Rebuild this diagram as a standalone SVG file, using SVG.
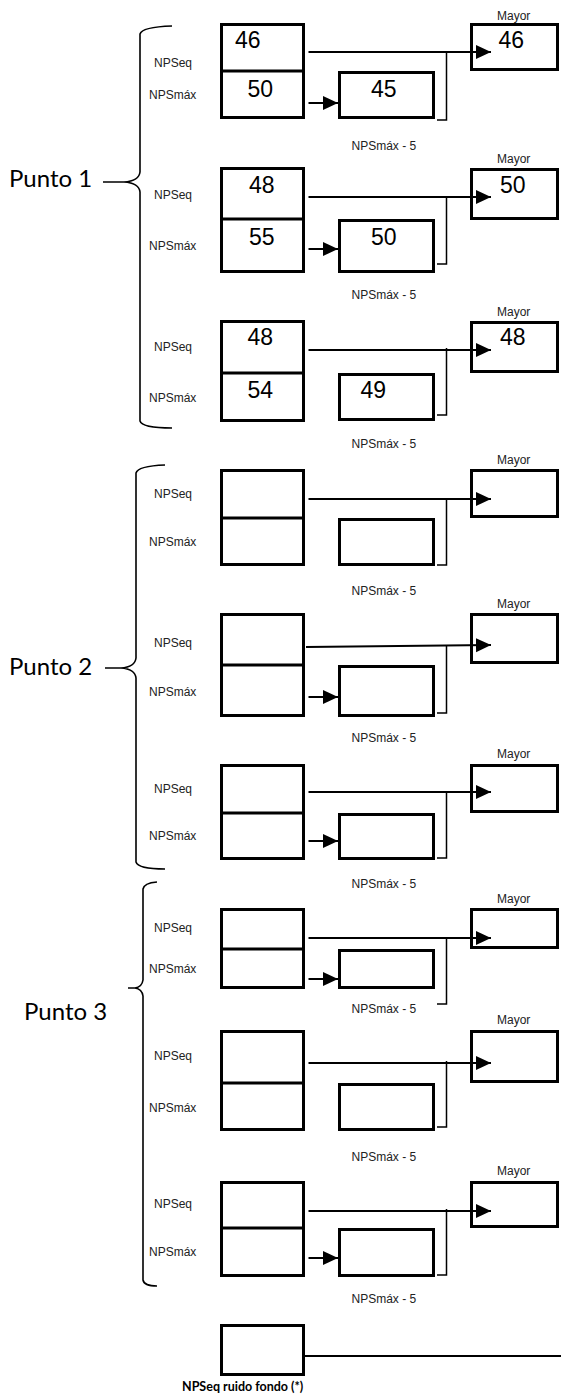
<svg xmlns="http://www.w3.org/2000/svg" width="561" height="1397" viewBox="0 0 561 1397">
<style>
.box{fill:#fff;stroke:#000;stroke-width:3}
.div{stroke:#000;stroke-width:3}
.lbl{font-family:"Liberation Sans",Arial,sans-serif;font-size:12px;fill:#222}
.num{font-family:"Liberation Sans",Arial,sans-serif;font-size:23px;fill:#000}
.punto{font-family:Lato,"Open Sans",sans-serif;font-size:24px;fill:#000}
.note{font-family:Lato,"Open Sans",sans-serif;font-size:12.5px;font-weight:bold;fill:#000}
.arr{stroke:#000;stroke-width:2;fill:none}
.thin{stroke:#000;stroke-width:1.5;fill:none}
.brace{stroke:#000;stroke-width:1.6;fill:none}
</style>
<defs>
<marker id="ah" markerUnits="userSpaceOnUse" markerWidth="16" markerHeight="16" refX="15" refY="7" orient="auto">
<path d="M0,0 L15,7 L0,14 z" fill="#000"/>
</marker>
</defs>

<g id="braces">
<g id="punto1">
<path class="brace" d="M172,26 Q142,27 140,34 L140,172 Q139,181 124,182 L103,182 M124,182 Q139,183 140,192 L140,421 Q142,428 172,428"/>
<text class="punto" x="9" y="187">Punto 1</text>
</g>
<g id="punto2">
<path class="brace" d="M165,465 Q138,466 136,473 L136,658 Q135,667 121,668 L105,668 M121,668 Q135,669 136,678 L136,862 Q138,869 165,869"/>
<text class="punto" x="9" y="675">Punto 2</text>
</g>
<g id="punto3">
<path class="brace" d="M157,882 Q144,883 143,889 L143,980 Q142,987 135,988 L128,988 M135,988 Q142,989 143,996 L143,1280 Q144,1286 157,1286"/>
<text class="punto" x="24" y="1020">Punto 3</text>
</g>
</g>

<!-- block 1 -->
<g id="b1-left">
<rect class="box" x="221.5" y="24.5" width="82" height="93"/>
<line class="div" x1="221.5" y1="71" x2="303.5" y2="71"/>
<text class="num" x="235" y="48">46</text>
<text class="num" x="247.5" y="97">50</text>
<text class="lbl" x="154" y="67">NPSeq</text>
<text class="lbl" x="149" y="99">NPSmáx</text>
</g>
<g id="b1-mid">
<rect class="box" x="339.5" y="72.5" width="94" height="45"/>
<text class="num" x="371" y="97">45</text>
<text class="lbl" x="351.5" y="150">NPSmáx - 5</text>
</g>
<g id="b1-max">
<rect class="box" x="471.5" y="24.5" width="86" height="45"/>
<text class="num" x="498.5" y="48">46</text>
<text class="lbl" x="497" y="20">Mayor</text>
</g>

<!-- block 2 -->
<g id="b2-left">
<rect class="box" x="221.5" y="168.5" width="82" height="103"/>
<line class="div" x1="221.5" y1="219" x2="303.5" y2="219"/>
<text class="num" x="249" y="193">48</text>
<text class="num" x="249" y="245">55</text>
<text class="lbl" x="154" y="199">NPSeq</text>
<text class="lbl" x="149" y="250">NPSmáx</text>
</g>
<g id="b2-mid">
<rect class="box" x="339.5" y="220.5" width="94" height="51"/>
<text class="num" x="371" y="245">50</text>
<text class="lbl" x="351.5" y="299">NPSmáx - 5</text>
</g>
<g id="b2-max">
<rect class="box" x="471.5" y="169.5" width="86" height="49"/>
<text class="num" x="500" y="193">50</text>
<text class="lbl" x="497" y="163">Mayor</text>
</g>

<!-- block 3 -->
<g id="b3-left">
<rect class="box" x="221.5" y="321.5" width="82" height="99"/>
<line class="div" x1="221.5" y1="373" x2="303.5" y2="373"/>
<text class="num" x="247.5" y="345">48</text>
<text class="num" x="247.5" y="398">54</text>
<text class="lbl" x="154" y="351">NPSeq</text>
<text class="lbl" x="149" y="402">NPSmáx</text>
</g>
<g id="b3-mid">
<rect class="box" x="339.5" y="374.5" width="94" height="45"/>
<text class="num" x="360.5" y="398">49</text>
<text class="lbl" x="351.5" y="448">NPSmáx - 5</text>
</g>
<g id="b3-max">
<rect class="box" x="471.5" y="322.5" width="86" height="49"/>
<text class="num" x="500" y="345">48</text>
<text class="lbl" x="497" y="316">Mayor</text>
</g>

<!-- block 4 -->
<g id="b4-left">
<rect class="box" x="221.5" y="470.5" width="82" height="94"/>
<line class="div" x1="221.5" y1="518" x2="303.5" y2="518"/>
<text class="lbl" x="154" y="498">NPSeq</text>
<text class="lbl" x="149" y="546">NPSmáx</text>
</g>
<g id="b4-mid">
<rect class="box" x="339.5" y="519.5" width="94" height="45"/>
<text class="lbl" x="351.5" y="595">NPSmáx - 5</text>
</g>
<g id="b4-max">
<rect class="box" x="471.5" y="470.5" width="86" height="46"/>
<text class="lbl" x="497" y="464">Mayor</text>
</g>

<!-- block 5 -->
<g id="b5-left">
<rect class="box" x="221.5" y="614.5" width="82" height="101"/>
<line class="div" x1="221.5" y1="665" x2="303.5" y2="665"/>
<text class="lbl" x="154" y="647">NPSeq</text>
<text class="lbl" x="149" y="696">NPSmáx</text>
</g>
<g id="b5-mid">
<rect class="box" x="339.5" y="666.5" width="94" height="49"/>
<text class="lbl" x="351.5" y="742">NPSmáx - 5</text>
</g>
<g id="b5-max">
<rect class="box" x="471.5" y="614.5" width="86" height="48"/>
<text class="lbl" x="497" y="608">Mayor</text>
</g>

<!-- block 6 -->
<g id="b6-left">
<rect class="box" x="221.5" y="765.5" width="82" height="93"/>
<line class="div" x1="221.5" y1="813" x2="303.5" y2="813"/>
<text class="lbl" x="154" y="793">NPSeq</text>
<text class="lbl" x="149" y="840">NPSmáx</text>
</g>
<g id="b6-mid">
<rect class="box" x="339.5" y="814.5" width="94" height="44"/>
<text class="lbl" x="351.5" y="888">NPSmáx - 5</text>
</g>
<g id="b6-max">
<rect class="box" x="471.5" y="765.5" width="86" height="46"/>
<text class="lbl" x="497" y="758">Mayor</text>
</g>

<!-- block 7 -->
<g id="b7-left">
<rect class="box" x="221.5" y="909.5" width="82" height="78"/>
<line class="div" x1="221.5" y1="949" x2="303.5" y2="949"/>
<text class="lbl" x="154" y="932">NPSeq</text>
<text class="lbl" x="149" y="973">NPSmáx</text>
</g>
<g id="b7-mid">
<rect class="box" x="339.5" y="950.5" width="94" height="37"/>
<text class="lbl" x="351.5" y="1013">NPSmáx - 5</text>
</g>
<g id="b7-max">
<rect class="box" x="471.5" y="909.5" width="86" height="38"/>
<text class="lbl" x="497" y="903">Mayor</text>
</g>

<!-- block 8 -->
<g id="b8-left">
<rect class="box" x="221.5" y="1031.5" width="82" height="98"/>
<line class="div" x1="221.5" y1="1083" x2="303.5" y2="1083"/>
<text class="lbl" x="154" y="1060">NPSeq</text>
<text class="lbl" x="149" y="1112">NPSmáx</text>
</g>
<g id="b8-mid">
<rect class="box" x="339.5" y="1084.5" width="94" height="45"/>
<text class="lbl" x="351.5" y="1161">NPSmáx - 5</text>
</g>
<g id="b8-max">
<rect class="box" x="471.5" y="1031.5" width="86" height="50"/>
<text class="lbl" x="497" y="1024">Mayor</text>
</g>

<!-- block 9 -->
<g id="b9-left">
<rect class="box" x="221.5" y="1182.5" width="82" height="93"/>
<line class="div" x1="221.5" y1="1228" x2="303.5" y2="1228"/>
<text class="lbl" x="154" y="1208">NPSeq</text>
<text class="lbl" x="149" y="1256">NPSmáx</text>
</g>
<g id="b9-mid">
<rect class="box" x="339.5" y="1229.5" width="94" height="46"/>
<text class="lbl" x="351.5" y="1303">NPSmáx - 5</text>
</g>
<g id="b9-max">
<rect class="box" x="471.5" y="1182.5" width="86" height="44"/>
<text class="lbl" x="497" y="1175">Mayor</text>
</g>

<!-- noise floor -->
<g id="noise">
<rect class="box" x="221.5" y="1325.5" width="82" height="49"/>
<text class="note" x="182" y="1391">NPSeq ruido fondo (*)</text>
</g>

<g id="connectors">
<line class="arr" x1="308.5" y1="52" x2="491" y2="52" marker-end="url(#ah)"/>
<polyline class="thin" points="446.5,52 446.5,120 437,120"/>
<line class="arr" x1="308.5" y1="103" x2="338" y2="103" marker-end="url(#ah)"/>
<line class="arr" x1="308.5" y1="197" x2="491" y2="197" marker-end="url(#ah)"/>
<polyline class="thin" points="446.5,197 446.5,264 437,264"/>
<line class="arr" x1="308.5" y1="249" x2="338" y2="249" marker-end="url(#ah)"/>
<line class="arr" x1="308.5" y1="350" x2="491" y2="350" marker-end="url(#ah)"/>
<polyline class="thin" points="446.5,348 446.5,415 437,415"/>
<line class="arr" x1="308.5" y1="499" x2="491" y2="499" marker-end="url(#ah)"/>
<polyline class="thin" points="446.5,499 446.5,565 437,565"/>
<line class="arr" x1="306" y1="647" x2="491" y2="645" marker-end="url(#ah)"/>
<polyline class="thin" points="446.5,646 446.5,713 437,713"/>
<line class="arr" x1="308.5" y1="697" x2="338" y2="697" marker-end="url(#ah)"/>
<line class="arr" x1="308.5" y1="792" x2="491" y2="792" marker-end="url(#ah)"/>
<polyline class="thin" points="446.5,792 446.5,858 437,858"/>
<line class="arr" x1="308.5" y1="841" x2="338" y2="841" marker-end="url(#ah)"/>
<line class="arr" x1="308.5" y1="938" x2="491" y2="938" marker-end="url(#ah)"/>
<polyline class="thin" points="446.5,938 446.5,1004 437,1004"/>
<line class="arr" x1="308.5" y1="979" x2="338" y2="979" marker-end="url(#ah)"/>
<line class="arr" x1="308.5" y1="1063" x2="491" y2="1063" marker-end="url(#ah)"/>
<polyline class="thin" points="446.5,1061 446.5,1127 437,1127"/>
<line class="arr" x1="308.5" y1="1211" x2="491" y2="1211" marker-end="url(#ah)"/>
<polyline class="thin" points="446.5,1209 446.5,1275 437,1275"/>
<line class="arr" x1="308.5" y1="1258" x2="338" y2="1258" marker-end="url(#ah)"/>
<line class="arr" x1="305" y1="1356" x2="561" y2="1356"/>
</g>
</svg>
